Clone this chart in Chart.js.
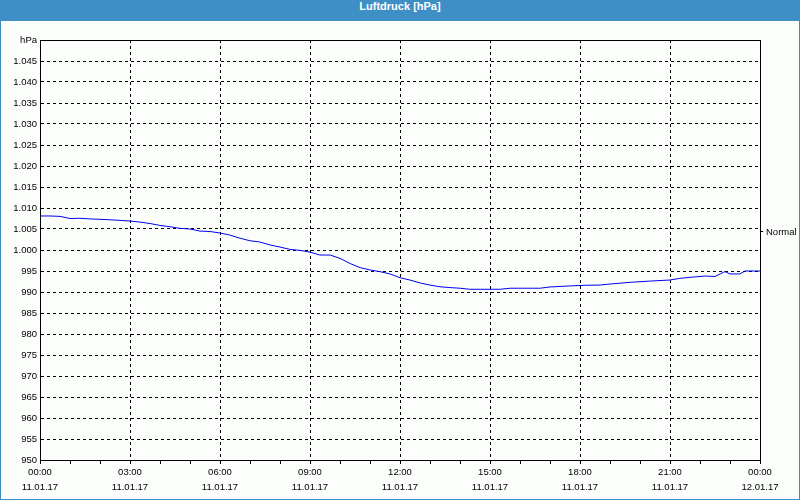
<!DOCTYPE html>
<html>
<head>
<meta charset="utf-8">
<script src="https://cdn.jsdelivr.net/npm/chart.js@4/dist/chart.umd.min.js"></script>
<style>
  html, body { margin: 0; padding: 0; background: #fbfefb; }
  #frame {
    position: relative;
    width: 800px; height: 500px;
    box-sizing: border-box;
    border: 1px solid #3d8fc6;
    border-top: none;
    background: #fbfefb;
  }
  #titlebar {
    height: 21px; line-height: 20px;
    margin: 0 -1px;
    background: #3d8fc6; color: #fff;
    font: bold 11px "Liberation Sans", Arial, sans-serif;
    text-align: center;
  }
  #wrap { position: absolute; left: 0; top: 21px; width: 798px; height: 478px; }
</style>
</head>
<body>
<div id="frame">
  <div id="titlebar">Luftdruck [hPa]</div>
  <div id="wrap"><canvas id="pressure_chart" width="798" height="478"></canvas></div>
</div>
<script>
// Luftdruck over one day
const hours = [0, 0.33, 0.67, 1, 1.33, 1.67, 2, 2.33, 2.67, 3, 3.33, 3.67, 4, 4.33, 4.67, 5, 5.33, 5.67,
  6, 6.33, 6.67, 7, 7.33, 7.67, 8, 8.33, 8.67, 9, 9.33, 9.67, 10, 10.33, 10.67, 11, 11.33, 11.67,
  12, 12.33, 12.67, 13, 13.33, 13.67, 14, 14.33, 14.67, 15, 15.33, 15.67, 16, 16.33, 16.67, 17,
  17.67, 18.17, 18.67, 19, 19.67, 20.33, 21, 21.33, 21.67, 22.17, 22.5, 22.67, 22.83, 23, 23.33, 23.5, 24];
const pressure = [1008.1, 1008.1, 1008.0, 1007.5, 1007.55, 1007.4, 1007.3, 1007.2, 1007.05, 1006.9, 1006.65, 1006.3, 1005.85, 1005.55, 1005.15, 1005.0, 1004.5, 1004.4,
  1004.05, 1003.55, 1002.8, 1002.2, 1001.9, 1001.2, 1000.7, 1000.15, 999.9, 999.5, 998.8, 998.8, 998.0, 996.8, 995.8, 995.25, 994.85, 994.3,
  993.4, 992.85, 992.15, 991.65, 991.25, 991.05, 990.9, 990.65, 990.65, 990.65, 990.65, 990.9, 990.9, 990.9, 990.9, 991.2,
  991.45, 991.6, 991.65, 991.9, 992.3, 992.6, 992.85, 993.25, 993.5, 993.8, 993.7, 994.3, 994.85, 994.3, 994.3, 995.0, 995.0];
const tickTimes = ['00:00', '03:00', '06:00', '09:00', '12:00', '15:00', '18:00', '21:00', '00:00'];
const tickDates = ['11.01.17', '11.01.17', '11.01.17', '11.01.17', '11.01.17', '11.01.17', '11.01.17', '11.01.17', '12.01.17'];
const yMin = 950;
const yMax = 1050;
const normalPressure = 1004.3;

const tickFont = { family: '"Liberation Sans", Arial, sans-serif', size: 9.5, lineHeight: 1.6 };

function formatHpa(v) {
  if (v === yMax) return 'hPa';
  if (v >= 1000) return '1.' + String(v).slice(1);
  return String(v);
}

// solid frame around the plot area
const plotFrame = {
  id: 'plotFrame',
  afterDraw(chart) {
    const a = chart.chartArea;
    const ctx = chart.ctx;
    ctx.save();
    ctx.strokeStyle = '#000';
    ctx.lineWidth = 1;
    ctx.strokeRect(Math.round(a.left) + 0.5, Math.round(a.top) + 0.5,
      Math.round(a.right - a.left), Math.round(a.bottom - a.top));
    ctx.restore();
  }
};

const ctx = document.getElementById('pressure_chart').getContext('2d');
new Chart(ctx, {
  type: 'line',
  data: {
    datasets: [{
      label: 'Luftdruck',
      data: hours.map((h, i) => ({ x: h, y: pressure[i] })),
      borderColor: '#0000f0',
      borderWidth: 1,
      pointRadius: 0,
      tension: 0,
      fill: false
    }]
  },
  options: {
    responsive: false,
    animation: false,
    layout: { padding: { top: 19, left: 0, right: 0, bottom: 0 } },
    plugins: {
      legend: { display: false },
      tooltip: { enabled: false },
      title: { display: false }
    },
    scales: {
      x: {
        type: 'linear',
        min: 0,
        max: 24,
        afterFit: s => { s.height = 39; },
        afterBuildTicks: s => { s.ticks = Array.from({ length: 25 }, (_, i) => ({ value: i })); },
        ticks: {
          autoSkip: false,
          maxRotation: 0,
          padding: 1,
          color: '#000',
          font: tickFont,
          callback: v => (v % 3 === 0 ? [tickTimes[v / 3], tickDates[v / 3]] : '')
        },
        grid: {
          color: c => (c.tick && c.tick.value % 3 === 0 ? '#000' : 'rgba(0,0,0,0)'),
          tickColor: '#000',
          tickLength: 4
        },
        border: { display: true, color: '#000', dash: [3, 3] }
      },
      y: {
        min: yMin,
        max: yMax,
        afterFit: s => { s.width = 39; },
        ticks: {
          stepSize: 5,
          padding: 3,
          color: '#000',
          font: tickFont,
          callback: v => formatHpa(v)
        },
        grid: { color: '#000', drawTicks: false },
        border: { display: true, color: '#000', dash: [3, 3] }
      },
      yNormal: {
        position: 'right',
        min: yMin,
        max: yMax,
        afterFit: s => { s.width = 39; },
        afterBuildTicks: s => { s.ticks = [{ value: normalPressure }]; },
        ticks: {
          padding: 3,
          color: '#000',
          font: tickFont,
          callback: () => 'Normal'
        },
        grid: { drawOnChartArea: false, color: '#000', tickLength: 3 },
        border: { display: false }
      }
    }
  },
  plugins: [plotFrame]
});
</script>
</body>
</html>
